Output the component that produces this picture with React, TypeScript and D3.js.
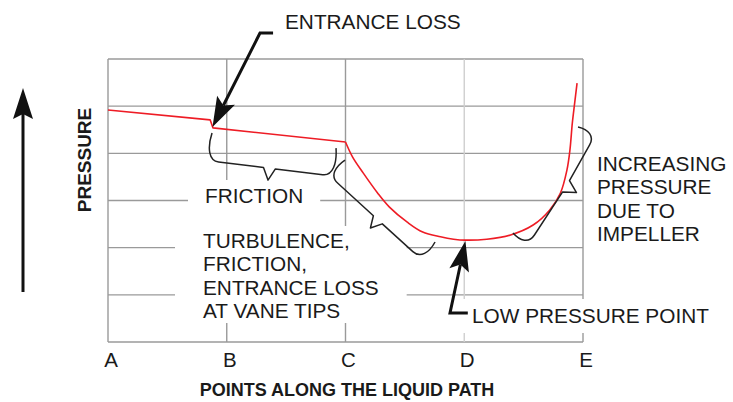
import React, { useEffect, useRef } from "react";
import * as d3 from "d3";

// points along the liquid path
const stations = ["A", "B", "C", "D", "E"];
const gridLevels = [0, 1, 2, 3, 4, 5, 6];

// pressure from inlet to C (straight with entrance drop)
const inletPos = [0, 0.86, 0.884, 2.0];
const inletPressure = [4.92, 4.71, 4.54, 4.24];

// pressure through the impeller, C -> E
const impellerPos = [2.0, 2.06, 2.15, 2.27, 2.37, 2.52, 2.65, 2.8, 2.91, 3.01, 3.19, 3.39, 3.58, 3.72, 3.81, 3.865, 3.89, 3.91, 3.93, 3.95];
const impellerPressure = [4.24, 3.92, 3.58, 3.16, 2.86, 2.54, 2.33, 2.23, 2.18, 2.16, 2.18, 2.27, 2.48, 2.8, 3.16, 3.65, 4.07, 4.64, 5.07, 5.49];

const turbulenceLines = ["TURBULENCE,", "FRICTION,", "ENTRANCE LOSS", "AT VANE TIPS"];
const impellerLines = ["INCREASING", "PRESSURE", "DUE TO", "IMPELLER"];

const FONT = "'Liberation Sans', Arial, sans-serif";

function App() {
  const ref = useRef<SVGSVGElement>(null);

  useEffect(() => {
    const svg = d3.select(ref.current);
    svg.selectAll("*").remove();

    const x = d3.scaleLinear().domain([0, 4]).range([108, 583]);
    const y = d3.scaleLinear().domain([0, 6]).range([342, 59]);

    const g = svg.append("g");

    // grid
    g.selectAll(".hgrid")
      .data(gridLevels)
      .enter()
      .append("line")
      .attr("x1", x(0))
      .attr("x2", x(4))
      .attr("y1", (d) => y(d))
      .attr("y2", (d) => y(d))
      .attr("stroke", "#9a9a9a")
      .attr("stroke-width", 1.4);

    g.selectAll(".vgrid")
      .data(stations)
      .enter()
      .append("line")
      .attr("x1", (d, i) => x(i))
      .attr("x2", (d, i) => x(i))
      .attr("y1", y(0))
      .attr("y2", y(6))
      .attr("stroke", (d) => (d === "D" ? "#cfcfcf" : "#9a9a9a"))
      .attr("stroke-width", 1.4);

    // white boxes behind labels inside the grid
    const masks = g.append("g");

    // station labels
    g.selectAll(".tick")
      .data(stations)
      .enter()
      .append("text")
      .attr("x", (d, i) => x(i) + 3)
      .attr("y", 367)
      .attr("text-anchor", "middle")
      .attr("font-family", FONT)
      .attr("font-size", 20.5)
      .attr("fill", "#1a1a1a")
      .text((d) => d);

    // axis titles
    svg.append("text")
      .attr("x", 347)
      .attr("y", 396)
      .attr("text-anchor", "middle")
      .attr("font-family", FONT)
      .attr("font-weight", "bold")
      .attr("font-size", 18)
      .attr("fill", "#1a1a1a")
      .text("POINTS ALONG THE LIQUID PATH");

    svg.append("text")
      .attr("transform", "translate(91,160) rotate(-90)")
      .attr("text-anchor", "middle")
      .attr("font-family", FONT)
      .attr("font-weight", "bold")
      .attr("font-size", 19)
      .attr("fill", "#1a1a1a")
      .text("PRESSURE");

    // pressure up arrow
    svg.append("line")
      .attr("x1", 23).attr("x2", 23)
      .attr("y1", 292).attr("y2", 110)
      .attr("stroke", "#111").attr("stroke-width", 3);
    svg.append("path")
      .attr("d", "M23,88 L13,119 L23,114 L33,119 Z")
      .attr("fill", "#111");

    // text labels
    const label = (tx: number, ty: number, lines: string[]) => {
      const t = g.append("text")
        .attr("font-family", FONT)
        .attr("font-size", 20.8)
        .attr("fill", "#1a1a1a");
      lines.forEach((s, i) => {
        t.append("tspan").attr("x", tx).attr("y", ty + i * 23.3).text(s);
      });
      return t;
    };

    const friction = label(205, 203, ["FRICTION"]);
    const turb = label(203, 248, turbulenceLines);
    const low = label(472, 323, ["LOW PRESSURE POINT"]);
    label(597, 171, impellerLines);
    label(285, 29, ["ENTRANCE LOSS"]);

    const boxes = [
      { el: friction, px: 17, top: 180, bottom: 226 },
      { el: turb, px: 28, top: 226, bottom: 323 },
      { el: low, px: 14, top: 299, bottom: 333 },
    ];
    boxes.forEach((b) => {
      const bb = (b.el.node() as SVGTextElement).getBBox();
      masks.append("rect")
        .attr("x", bb.x - b.px)
        .attr("y", b.top)
        .attr("width", bb.width + b.px * 2)
        .attr("height", b.bottom - b.top)
        .attr("fill", "#fff");
    });

    // pressure curve
    const line = d3.line<number>()
      .x((d, i) => x(inletPos[i]))
      .y((d, i) => y(inletPressure[i]));
    g.append("path")
      .datum(inletPressure)
      .attr("d", line)
      .attr("fill", "none")
      .attr("stroke", "#ee1c25")
      .attr("stroke-width", 1.6)
      .attr("stroke-linejoin", "round");

    const curve = d3.line<number>()
      .x((d, i) => x(impellerPos[i]))
      .y((d, i) => y(impellerPressure[i]))
      .curve(d3.curveCatmullRom.alpha(0.5));
    g.append("path")
      .datum(impellerPressure)
      .attr("d", curve)
      .attr("fill", "none")
      .attr("stroke", "#ee1c25")
      .attr("stroke-width", 1.6);

    // curly braces: two ends and the foot of the spike, in data units
    const brace = (a: number[], m: number[], b: number[], side: number, depth: number, spike: number) => {
      const p1 = [x(a[0]), y(a[1])];
      const pm = [x(m[0]), y(m[1])];
      const p2 = [x(b[0]), y(b[1])];
      const frame = (s: number[], e: number[]) => {
        const L = Math.hypot(e[0] - s[0], e[1] - s[1]);
        const u = [(e[0] - s[0]) / L, (e[1] - s[1]) / L];
        const n = [-u[1] * side, u[0] * side];
        return (s0: number, v: number) => [s[0] + u[0] * s0 + n[0] * v, s[1] + u[1] * s0 + n[1] * v];
      };
      const L1 = Math.hypot(pm[0] - p1[0], pm[1] - p1[1]);
      const L2 = Math.hypot(p2[0] - pm[0], p2[1] - pm[1]);
      const f1 = frame(p1, pm);
      const f2 = frame(pm, p2);
      const n1 = f1(L1, 1), n2 = f2(0, 1);
      const nx = (n1[0] - pm[0] + n2[0] - pm[0]) / 2, ny = (n1[1] - pm[1] + n2[1] - pm[1]) / 2;
      const nl = Math.hypot(nx, ny);
      const apex = [pm[0] + (nx / nl) * (depth + spike), pm[1] + (ny / nl) * (depth + spike)];
      const P = (p: number[]) => `${p[0]},${p[1]}`;
      const d = `M${P(p1)} C${P(f1(-3, depth * 0.55))} ${P(f1(0, depth))} ${P(f1(10, depth))}`
        + ` L${P(f1(L1 - 6, depth))} L${P(apex)} L${P(f2(6, depth))}`
        + ` L${P(f2(L2 - 10, depth))} C${P(f2(L2, depth))} ${P(f2(L2 + 3, depth * 0.55))} ${P(p2)}`;
      g.append("path")
        .attr("d", d)
        .attr("fill", "none")
        .attr("stroke", "#222")
        .attr("stroke-width", 1.5)
        .attr("stroke-linejoin", "round");
    };
    brace([0.876, 4.43], [1.388, 4.274], [1.92, 4.11], 1, 28, 12);
    brace([1.996, 3.858], [2.397, 2.936], [2.754, 2.12], 1, 22, 11);
    brace([3.958, 4.56], [3.722, 3.509], [3.411, 2.311], -1, 19, 12);

    // elbow arrows
    const arrow = (pts: number[][]) => {
      const pp = pts.map((p) => [x(p[0]), y(p[1])]);
      const tip = pp[pp.length - 1];
      const prev = pp[pp.length - 2];
      const len = Math.hypot(tip[0] - prev[0], tip[1] - prev[1]);
      const ux = (tip[0] - prev[0]) / len, uy = (tip[1] - prev[1]) / len;
      const hl = 30, hw = 10;
      const bx = tip[0] - ux * hl, by = tip[1] - uy * hl;
      const shaft = pp.slice(0, -1).concat([[tip[0] - ux * (hl - 6), tip[1] - uy * (hl - 6)]]);
      g.append("path")
        .attr("d", d3.line()(shaft as [number, number][]))
        .attr("fill", "none")
        .attr("stroke", "#111")
        .attr("stroke-width", 3);
      g.append("path")
        .attr("d", `M${tip[0]},${tip[1]} L${bx - uy * hw},${by + ux * hw} L${tip[0] - ux * (hl - 6)},${tip[1] - uy * (hl - 6)} L${bx + uy * hw},${by - ux * hw} Z`)
        .attr("fill", "#111");
    };
    arrow([[1.39, 6.55], [1.28, 6.55], [0.88, 4.56]]);
    arrow([[3.03, 0.615], [2.88, 0.615], [3.01, 2.14]]);
  }, []);

  return (
    <div>
      <svg ref={ref} width={733} height={402} style={{ position: "absolute", left: 0, top: 0, background: "#fff" }}></svg>
    </div>
  );
}

export default App;
